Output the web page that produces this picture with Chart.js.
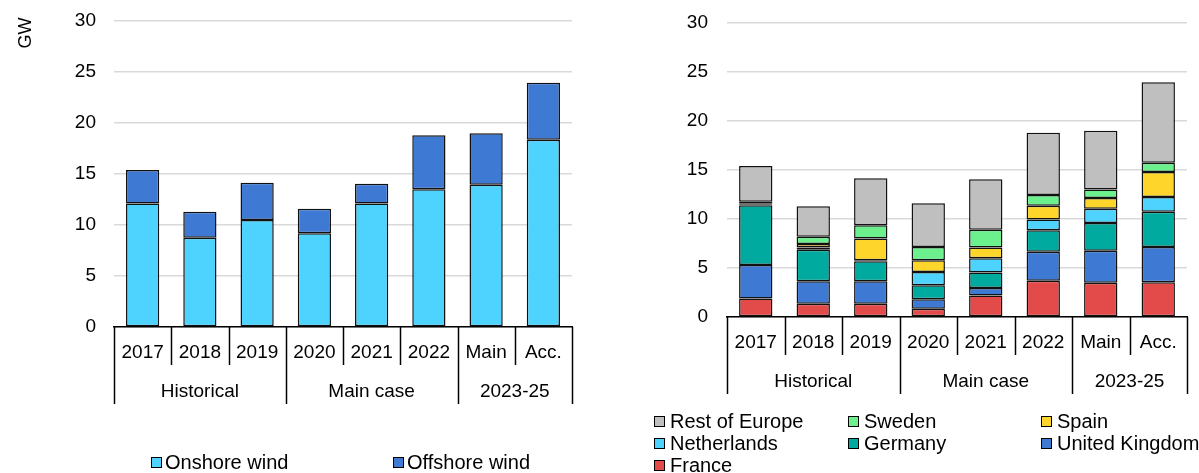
<!DOCTYPE html>
<html lang="en">
<head>
<meta charset="UTF-8">
<title>Wind capacity additions in Europe</title>
<script src="https://cdn.jsdelivr.net/npm/chart.js"></script>
<style>
  body { margin: 0; background: #fff; }
  #wrap { position: relative; width: 1199px; height: 473px; overflow: hidden; }
  #techChart { position: absolute; left: 0; top: 0; }
  #countryChart { position: absolute; left: 620px; top: 0; }
</style>
</head>
<body>
<div id="wrap">
  <canvas id="techChart" width="620" height="473"></canvas>
  <canvas id="countryChart" width="579" height="473"></canvas>
</div>

<script>
// categories and the group row under them
const years = ['2017', '2018', '2019', '2020', '2021', '2022', 'Main', 'Acc.'];
const groupLabels = ['Historical', 'Main case', '2023-25'];
const groupSizes = [3, 3, 2];

// GW, by technology
const onshore = [12.1, 8.75, 10.5, 9.2, 12.1, 13.5, 13.95, 18.35];
const offshore = [3.3, 2.55, 3.65, 2.4, 1.95, 5.3, 5.05, 5.6];

// GW, by country
const france = [1.9, 1.35, 1.35, 0.85, 2.2, 3.7, 3.5, 3.55];
const unitedKingdom = [3.4, 2.3, 2.3, 0.95, 0.75, 2.95, 3.25, 3.6];
const germany = [6.1, 3.2, 2.05, 1.45, 1.6, 2.2, 2.85, 3.6];
const netherlands = [0.1, 0.25, 0.1, 1.35, 1.45, 1.1, 1.45, 1.5];
const spain = [0.1, 0.35, 2.2, 1.2, 1.1, 1.4, 1.1, 2.55];
const sweden = [0.15, 0.75, 1.35, 1.35, 1.8, 1.1, 0.85, 0.95];
const restOfEurope = [3.65, 3.1, 4.8, 4.45, 5.15, 6.35, 6.0, 8.2];

const yMax = 30;
const yStep = 5;

Chart.defaults.font.family = '"Liberation Sans", Arial, sans-serif';
Chart.defaults.font.size = 19;
Chart.defaults.color = '#000';

// separators between categories plus the group labels underneath
const groupAxis = {
    id: 'groupAxis',
    afterDraw(chart, args, opts) {
        const x = chart.scales.x;
        const ctx = chart.ctx;
        const half = (x.getPixelForValue(1) - x.getPixelForValue(0)) / 2;
        const edges = [0];
        groupSizes.forEach(function(n) { edges.push(edges[edges.length - 1] + n); });

        ctx.save();
        ctx.strokeStyle = '#000';
        ctx.lineWidth = 1.5;
        for (let i = 0; i <= years.length; i++) {
            const bx = Math.round(x.getPixelForValue(i) - half) + 0.5;
            const len = edges.includes(i) ? opts.groupDepth : opts.yearDepth;
            ctx.beginPath();
            ctx.moveTo(bx, x.top);
            ctx.lineTo(bx, x.top + len);
            ctx.stroke();
        }

        ctx.fillStyle = '#000';
        ctx.font = '19px "Liberation Sans", Arial, sans-serif';
        ctx.textAlign = 'center';
        ctx.textBaseline = 'middle';
        groupLabels.forEach(function(label, g) {
            const first = edges[g];
            const last = edges[g + 1] - 1;
            const cx = (x.getPixelForValue(first) + x.getPixelForValue(last)) / 2;
            ctx.fillText(label, cx, x.top + opts.labelOffset);
        });
        ctx.restore();
    }
};

// legend laid out in fixed columns
const boxLegend = {
    id: 'boxLegend',
    afterDraw(chart, args, opts) {
        const ctx = chart.ctx;
        const sets = chart.data.datasets.slice();
        if (opts.reverse) sets.reverse();
        ctx.save();
        ctx.font = '20px "Liberation Sans", Arial, sans-serif';
        ctx.textBaseline = 'middle';
        sets.forEach(function(ds, i) {
            const col = i % opts.columns.length;
            const row = Math.floor(i / opts.columns.length);
            const lx = opts.columns[col];
            const ly = opts.rows[row];
            ctx.fillStyle = ds.backgroundColor;
            ctx.fillRect(lx, ly - 5, 10, 10);
            ctx.strokeStyle = '#000';
            ctx.lineWidth = 1;
            ctx.strokeRect(lx + 0.5, ly - 4.5, 10, 10);
            ctx.fillStyle = '#000';
            ctx.fillText(ds.label, lx + opts.gap, ly + 1);
        });
        ctx.restore();
    }
};

// unit label at the top of the value axis
const unitLabel = {
    id: 'unitLabel',
    afterDraw(chart, args, opts) {
        if (!opts.text) return;
        const ctx = chart.ctx;
        ctx.save();
        ctx.translate(opts.x, opts.y);
        ctx.rotate(-Math.PI / 2);
        ctx.font = '18px "Liberation Sans", Arial, sans-serif';
        ctx.fillStyle = '#000';
        ctx.textAlign = 'center';
        ctx.textBaseline = 'middle';
        ctx.fillText(opts.text, 0, 0);
        ctx.restore();
    }
};

function bars(label, data, color) {
    return {
        label: label,
        data: data,
        backgroundColor: color,
        borderColor: '#111',
        borderWidth: 1.5,
        borderSkipped: false,
        barPercentage: 0.58,
        categoryPercentage: 1
    };
}

function chartOptions(s) {
    return {
        responsive: false,
        animation: false,
        layout: { padding: { top: s.top, right: s.right, bottom: 0, left: 0 } },
        scales: {
            x: {
                stacked: true,
                grid: { display: false, drawTicks: false },
                border: { display: true, color: '#000', width: 1.5 },
                ticks: { padding: 14, maxRotation: 0, autoSkip: false },
                afterFit: function(scale) { scale.height = s.xHeight; }
            },
            y: {
                stacked: true,
                min: 0,
                max: yMax,
                ticks: { stepSize: yStep, padding: s.tickPad },
                grid: { color: '#d9d9d9', lineWidth: 1.5, drawTicks: false },
                border: { display: false },
                afterFit: function(scale) {
                    // fixed gutter; the top label is allowed to sit in the padding
                    scale.width = s.yWidth;
                    scale.paddingTop = 0;
                    scale.paddingBottom = 0;
                }
            }
        },
        plugins: {
            legend: { display: false },
            tooltip: { enabled: false },
            groupAxis: { yearDepth: 38, groupDepth: 77, labelOffset: 65 },
            boxLegend: s.legend,
            unitLabel: s.unit
        }
    };
}

new Chart(document.getElementById('techChart'), {
    type: 'bar',
    data: {
        labels: years,
        datasets: [
            bars('Onshore wind', onshore, '#4dd3fe'),
            bars('Offshore wind', offshore, '#3e7ad3')
        ]
    },
    options: chartOptions({
        top: 21, right: 48, xHeight: 146, yWidth: 114, tickPad: 18,
        legend: { columns: [151, 393], rows: [462], gap: 14, reverse: false },
        unit: { text: 'GW', x: 26, y: 33 }
    }),
    plugins: [groupAxis, boxLegend, unitLabel]
});

new Chart(document.getElementById('countryChart'), {
    type: 'bar',
    data: {
        labels: years,
        datasets: [
            bars('France', france, '#e34a4a'),
            bars('United Kingdom', unitedKingdom, '#3e79d3'),
            bars('Germany', germany, '#00aa9e'),
            bars('Netherlands', netherlands, '#4dd3fe'),
            bars('Spain', spain, '#fed52b'),
            bars('Sweden', sweden, '#6cf08e'),
            bars('Rest of Europe', restOfEurope, '#bfbfbf')
        ]
    },
    options: chartOptions({
        top: 23, right: 12, xHeight: 156, yWidth: 107, tickPad: 19,
        legend: { columns: [34, 228, 421], rows: [421, 443, 465], gap: 16, reverse: true },
        unit: { text: '' }
    }),
    plugins: [groupAxis, boxLegend, unitLabel]
});
</script>
</body>
</html>
